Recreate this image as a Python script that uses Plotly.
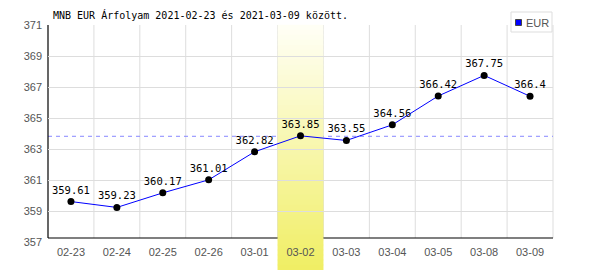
import plotly.graph_objects as go

# ---- data ----
dates = ["02-23", "02-24", "02-25", "02-26", "03-01", "03-02",
         "03-03", "03-04", "03-05", "03-08", "03-09"]
eur = [359.61, 359.23, 360.17, 361.01, 362.82, 363.85,
       363.55, 364.56, 366.42, 367.75, 366.4]
avg_line = 363.82
highlight = "03-02"
y_ticks = [357, 359, 361, 363, 365, 367, 369, 371]
title = "MNB EUR Árfolyam 2021-02-23 és 2021-03-09 között."
series_name = "EUR"

W, H = 600, 270
ML, MR, MT, MB = 48, 47, 25, 28
PW, PH = W - ML - MR, H - MT - MB
n = len(dates)

def px_x(p):
    return (p - ML) / PW

def px_y(p):
    return (H - MB - p) / PH

axis_y = px_y(238)

fig = go.Figure()
fig.add_trace(go.Scatter(
    x=dates, y=eur, mode="lines+markers+text",
    text=[repr(v) for v in eur], textposition="top center",
    textfont=dict(family="DejaVu Sans Mono", size=10.5, color="black"),
    line=dict(color="#0000ff", width=1),
    marker=dict(color="black", size=7),
    showlegend=False, cliponaxis=False,
))

shapes = []
# vertical grid lines (stop at the black axis line)
for i in range(n):
    shapes.append(dict(type="line", xref="paper", yref="paper",
                       x0=(i + 1) / n, x1=(i + 1) / n, y0=axis_y, y1=1,
                       line=dict(color="#dddddd", width=1), layer="between"))
# mean line
shapes.append(dict(type="line", xref="paper", yref="y", x0=0, x1=1,
                   y0=avg_line, y1=avg_line,
                   line=dict(color="#8888ff", width=1, dash="4px,4px"),
                   layer="between"))
# black axis lines
shapes.append(dict(type="line", xref="paper", yref="paper", x0=0, x1=0,
                   y0=axis_y, y1=1, line=dict(color="black", width=1.2),
                   layer="between"))
shapes.append(dict(type="line", xref="paper", yref="paper", x0=0, x1=1,
                   y0=axis_y, y1=axis_y, line=dict(color="black", width=1.2),
                   layer="between"))

# highlight band with vertical gradient
hi = dates.index(highlight)
bx0, bx1 = hi / n, (hi + 1) / n
top_px, bot_px = 25, 270
steps = 49
c_top = (255, 255, 246)
c_bot = (240, 238, 100)
for s in range(steps):
    p0 = top_px + (bot_px - top_px) * s / steps
    p1 = top_px + (bot_px - top_px) * (s + 1) / steps
    t = (s + 0.5) / steps
    c = tuple(round(a + (b - a) * t) for a, b in zip(c_top, c_bot))
    shapes.append(dict(type="rect", xref="paper", yref="paper",
                       x0=bx0, x1=bx1, y0=px_y(p1) - 0.001, y1=px_y(p0) + 0.001,
                       fillcolor="rgb(%d,%d,%d)" % c, line=dict(width=0),
                       layer="between"))

# legend box (manual)
shapes.append(dict(type="rect", xref="paper", yref="paper",
                   x0=px_x(511), x1=px_x(552), y0=px_y(32), y1=px_y(12),
                   fillcolor="white", line=dict(color="#dddddd", width=1),
                   layer="above"))
shapes.append(dict(type="rect", xref="paper", yref="paper",
                   x0=px_x(515.5), x1=px_x(521.5), y0=px_y(25.5), y1=px_y(19.5),
                   fillcolor="#0000ff", line=dict(color="#444444", width=1),
                   layer="above"))

annotations = [dict(xref="paper", yref="paper", x=px_x(524), y=px_y(22.5),
                    xanchor="left", yanchor="middle", text=series_name,
                    showarrow=False,
                    font=dict(family="Liberation Sans", size=11, color="#555555"))]

fig.update_layout(
    width=W, height=H,
    margin=dict(l=ML, r=MR, t=MT, b=MB, pad=0),
    paper_bgcolor="white", plot_bgcolor="white",
    title=dict(text=title, x=53 / W, xanchor="left", y=1 - 15 / H,
               yanchor="middle", xref="container", yref="container",
               font=dict(family="DejaVu Sans Mono", size=10, color="black")),
    shapes=shapes, annotations=annotations,
    showlegend=False,
)
fig.update_xaxes(
    type="category", range=[-0.5, n - 0.5], showgrid=False, zeroline=False,
    showline=False, ticks="", ticklabelstandoff=2,
    tickfont=dict(family="Liberation Sans", size=11, color="#555555"),
)
fig.update_yaxes(
    range=[y_ticks[0], y_ticks[-1]], tickvals=y_ticks,
    showgrid=True, gridcolor="#dddddd", gridwidth=1, zeroline=False,
    showline=False, ticks="", ticklabelstandoff=5,
    tickfont=dict(family="Liberation Sans", size=11, color="#555555"),
)

fig.write_html("out.html")
